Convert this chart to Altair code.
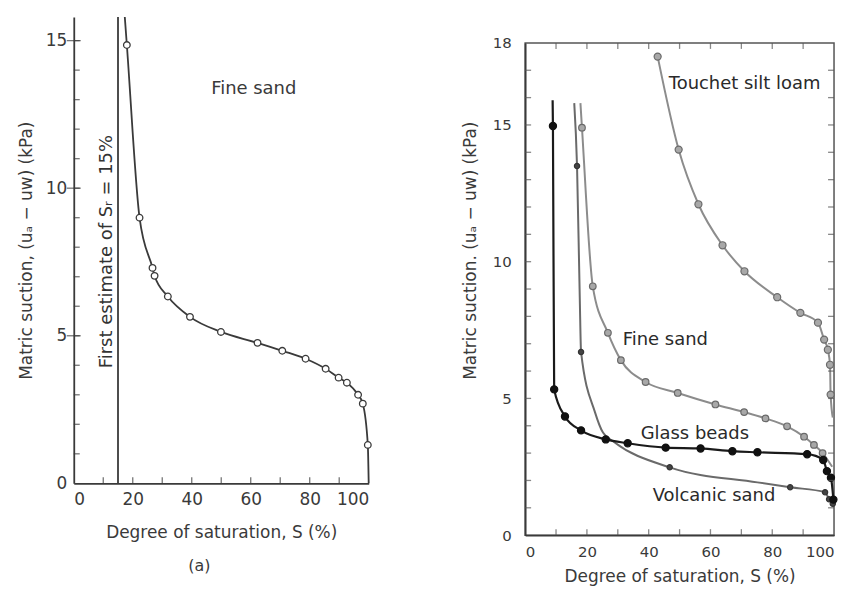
import altair as alt
import pandas as pd

FONT = "DejaVu Sans"
INK = "#3a3a3a"

# ---------------- Panel (a): fine sand ----------------
a_S = [18.0, 22.3, 26.7, 27.4, 31.9, 39.4, 49.9, 62.3, 70.7, 78.6, 85.4, 89.8, 92.6, 96.4, 98.0, 99.7]
a_suction = [14.85, 9.0, 7.3, 7.03, 6.33, 5.64, 5.13, 4.76, 4.49, 4.22, 3.88, 3.58, 3.41, 3.0, 2.7, 1.3]
a_line_ends_S = [17.3, 100.0]
a_line_ends_suction = [15.8, 0.0]
a_first_estimate = [15]
a_y_labels = [0, 5, 10, 15]
a_x_labels = [0, 20, 40, 60, 80, 100]
a_y_minor = list(range(1, 16))
a_y_major = [5, 10, 15]
a_x_minor = [10, 20, 30, 40, 50, 60, 70, 80, 90]

# ---------------- Panel (b): four soils ----------------
touchet_S = [42.9, 49.7, 56.1, 63.9, 71.0, 81.6, 89.1, 94.8, 96.8, 98.0, 98.7, 98.9]
touchet_suction = [17.5, 14.1, 12.1, 10.6, 9.65, 8.7, 8.13, 7.77, 7.15, 6.78, 6.23, 5.14]
touchet_ends_S = [99.6]
touchet_ends_suction = [4.3]

finesand_S = [18.4, 21.9, 26.8, 31.0, 39.0, 49.4, 61.6, 70.9, 77.8, 84.8, 90.3, 93.5, 96.3]
finesand_suction = [14.9, 9.1, 7.4, 6.4, 5.6, 5.2, 4.78, 4.5, 4.27, 3.98, 3.6, 3.3, 3.0]
finesand_ends_S = [17.9, 99.4]
finesand_ends_suction = [15.8, 2.5]

glass_S = [9.0, 9.4, 12.9, 18.1, 26.1, 33.2, 45.5, 56.8, 67.1, 75.2, 91.3, 96.5, 97.7, 99.0, 99.8]
glass_suction = [14.96, 5.33, 4.34, 3.83, 3.5, 3.36, 3.2, 3.17, 3.07, 3.03, 2.96, 2.75, 2.34, 2.1, 1.3]
glass_ends_S = [8.9]
glass_ends_suction = [15.9]

volcanic_S = [16.8, 18.1, 46.8, 85.8, 97.1, 98.4, 99.6]
volcanic_suction = [13.5, 6.7, 2.48, 1.75, 1.57, 1.31, 1.15]
volcanic_line_S = [15.9, 17.7, 22.6, 25.2, 29.0, 75.2]
volcanic_line_suction = [15.8, 8.6, 4.5, 3.75, 3.39, 1.93]

b_y_labels = [0, 5, 10, 15, 18]
b_x_labels = [0, 20, 40, 60, 80, 100]
b_y_minor = list(range(1, 18))
b_x_minor = [10, 20, 30, 40, 50, 60, 70, 80, 90]

# annotations (data coordinates)
a_notes = [("Fine sand", 46.6, 13.35)]
a_caption = [("(a)", 42.6, -2.8)]
b_notes = [("Touchet silt loam", 46.5, 16.5), ("Fine sand", 31.6, 7.14),
           ("Glass beads", 37.4, 3.68), ("Volcanic sand", 41.3, 1.42)]


def line_df(pS, pY, eS, eY):
    df = pd.DataFrame({"S": list(pS) + list(eS), "suction": list(pY) + list(eY)})
    return df.sort_values("S").reset_index(drop=True)


def notes_df(notes):
    return pd.DataFrame({"t": [n[0] for n in notes], "S": [n[1] for n in notes],
                         "suction": [n[2] for n in notes]})


# ================= Panel (a) =================
a_x_axis = alt.Axis(values=a_x_labels, ticks=False, grid=False, title="Degree of saturation, S (%)",
                    labelFontSize=17, labelPadding=8, titleFontSize=17, titlePadding=17,
                    titleFontWeight="normal")
a_y_axis = alt.Axis(values=a_y_labels, ticks=False, grid=False,
                    title="Matric suction,  (uₐ − uw) (kPa)",
                    labelFontSize=17, labelPadding=7, titleFontSize=17, titlePadding=10,
                    titleFontWeight="normal")
AX = alt.X("S:Q", scale=alt.Scale(domain=[0, 100], nice=False), axis=a_x_axis)
AY = alt.Y("suction:Q", scale=alt.Scale(domain=[0, 15.8], nice=False, zero=False), axis=a_y_axis)

a_curve = alt.Chart(line_df(a_S, a_suction, a_line_ends_S, a_line_ends_suction)).mark_line(
    color=INK, strokeWidth=1.8, interpolate="monotone").encode(x=AX, y=AY)

a_pts = alt.Chart(pd.DataFrame({"S": a_S, "suction": a_suction})).mark_point(
    shape="circle", filled=True, fill="white", stroke=INK, strokeWidth=1.3, size=44, opacity=1).encode(x=AX, y=AY)

a_rule = alt.Chart(pd.DataFrame({"S": a_first_estimate})).mark_rule(color=INK, strokeWidth=1.8).encode(x=AX)

a_rot = alt.Chart(pd.DataFrame({"S": [11.2], "suction": [7.85], "t": ["First estimate of Sᵣ = 15%"]})).mark_text(
    angle=270, font=FONT, fontSize=18, color="#333333", align="center", baseline="middle").encode(
    x=AX, y=AY, text="t:N")

a_txt = alt.Chart(notes_df(a_notes)).mark_text(
    font=FONT, fontSize=18, color="#3a3a3a", align="left", baseline="middle").encode(x=AX, y=AY, text="t:N")

a_cap = alt.Chart(notes_df(a_caption)).mark_text(
    font=FONT, fontSize=16, color="#3a3a3a", align="center", baseline="middle").encode(x=AX, y=AY, text="t:N")

a_ytick_minor = alt.Chart(pd.DataFrame({"S": [0] * len(a_y_minor), "suction": a_y_minor})).mark_tick(
    orient="horizontal", size=6, xOffset=3, thickness=1.3, color=INK).encode(x=AX, y=AY)
a_ytick_major = alt.Chart(pd.DataFrame({"S": [0] * len(a_y_major), "suction": a_y_major})).mark_tick(
    orient="horizontal", size=14, thickness=1.3, color=INK).encode(x=AX, y=AY)
a_xtick = alt.Chart(pd.DataFrame({"S": a_x_minor, "suction": [0] * len(a_x_minor)})).mark_tick(
    orient="vertical", size=6, yOffset=-3, thickness=1.3, color=INK).encode(x=AX, y=AY)

left = alt.layer(a_curve, a_rule, a_pts, a_rot, a_txt, a_cap, a_ytick_minor, a_ytick_major, a_xtick).properties(
    width=296, height=468, view=alt.ViewBackground(stroke=None))

# ================= Panel (b) =================
b_x_axis = alt.Axis(values=b_x_labels, ticks=False, grid=False, title="Degree of saturation, S (%)",
                    labelFontSize=15, labelPadding=9, titleFontSize=17, titlePadding=10,
                    titleFontWeight="normal")
b_y_axis = alt.Axis(values=b_y_labels, ticks=False, grid=False,
                    title="Matric suction. (uₐ − uw) (kPa)",
                    labelFontSize=15, labelPadding=14, titleFontSize=17, titlePadding=13,
                    titleFontWeight="normal", titleY=208)
BX = alt.X("S:Q", scale=alt.Scale(domain=[0, 100], nice=False), axis=b_x_axis)
BY = alt.Y("suction:Q", scale=alt.Scale(domain=[0, 18], nice=False), axis=b_y_axis)

GRAY = "#8c8c8c"


def curve(pS, pY, eS, eY, color, width):
    return alt.Chart(line_df(pS, pY, eS, eY)).mark_line(
        color=color, strokeWidth=width, interpolate="monotone").encode(x=BX, y=BY)


def dots(pS, pY, fill, stroke, size):
    return alt.Chart(pd.DataFrame({"S": pS, "suction": pY})).mark_point(
        shape="circle", filled=True, fill=fill, stroke=stroke, strokeWidth=1.2, size=size, opacity=1).encode(
        x=BX, y=BY)


b_touchet = curve(touchet_S, touchet_suction, touchet_ends_S, touchet_ends_suction, GRAY, 2)
b_fine = curve(finesand_S, finesand_suction, finesand_ends_S, finesand_ends_suction, GRAY, 2)
b_volc = curve(volcanic_S, volcanic_suction, volcanic_line_S, volcanic_line_suction, "#6a6a6a", 2)
b_glass = curve(glass_S, glass_suction, glass_ends_S, glass_ends_suction, "#1a1a1a", 2.2)

b_touchet_p = dots(touchet_S, touchet_suction, "#a8a8a8", "#6a6a6a", 50)
b_fine_p = dots(finesand_S, finesand_suction, "#a8a8a8", "#6a6a6a", 44)
b_volc_p = dots(volcanic_S, volcanic_suction, "#444444", "#333333", 28)
b_glass_p = dots(glass_S, glass_suction, "#111111", "#111111", 52)

b_txt = alt.Chart(notes_df(b_notes)).mark_text(
    font=FONT, fontSize=18, color="#2a2a2a", align="left", baseline="middle").encode(x=BX, y=BY, text="t:N")


def ticks(S, Y, orient, size, xo=0, yo=0):
    return alt.Chart(pd.DataFrame({"S": S, "suction": Y})).mark_tick(
        orient=orient, size=size, xOffset=xo, yOffset=yo, thickness=1.3, color="#555555").encode(x=BX, y=BY)


b_tl = ticks([0] * len(b_y_minor), b_y_minor, "horizontal", 6, xo=3)
b_tr = ticks([100] * len(b_y_minor), b_y_minor, "horizontal", 6, xo=-3)
b_tb = ticks(b_x_minor, [0] * len(b_x_minor), "vertical", 6, yo=-3)
b_tt = ticks(b_x_minor, [18] * len(b_x_minor), "vertical", 6, yo=3)

right = alt.layer(b_touchet, b_fine, b_volc, b_glass, b_touchet_p, b_fine_p, b_volc_p, b_glass_p,
                  b_txt, b_tl, b_tr, b_tb, b_tt).properties(
    width=310, height=494,
    view=alt.ViewBackground(stroke="#555555", strokeWidth=1.5))

spacer = alt.Chart(pd.DataFrame({"S": [0]})).mark_point(opacity=0).encode(
    x=alt.X("S:Q", axis=None)).properties(width=310, height=10, view=alt.ViewBackground(stroke=None))

right_col = alt.vconcat(spacer, right, spacing=8)

chart = alt.hconcat(left, right_col, spacing=86).properties(
    padding={"left": 9, "top": 4, "right": 0, "bottom": 0}
).configure_axis(
    labelFont=FONT, titleFont=FONT, labelColor="#3a3a3a", titleColor="#3a3a3a",
    domainColor=INK, domainWidth=1.8
).configure_title(font=FONT)

chart.save("out.html", embed_options={"renderer": "svg", "actions": False})
